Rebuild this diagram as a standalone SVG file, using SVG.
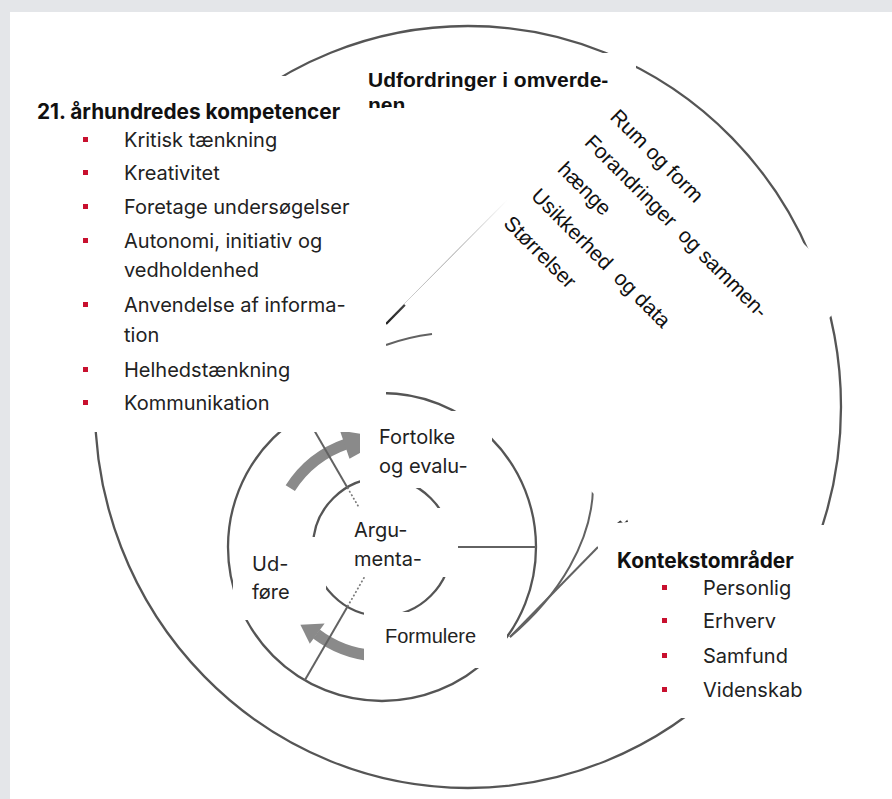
<svg xmlns="http://www.w3.org/2000/svg" width="892" height="799" viewBox="0 0 892 799">
<defs>
<style>
.bg{fill:#e4e6e9}
.mask{fill:#fff}
.ln{fill:none;stroke:#555;stroke-width:2.3}
.ln2{fill:none;stroke:#626262;stroke-width:2}
.dot{fill:none;stroke:#777;stroke-width:1.6;stroke-dasharray:2 2}
.arr{fill:none;stroke:#8a8a8a;stroke-width:11}
.arrh{fill:#8a8a8a}
.t{font-family:Inter,"Liberation Sans",sans-serif;font-size:20px;fill:#222}
.h{font-family:Inter,"Liberation Sans",sans-serif;font-size:20.8px;font-weight:700;fill:#111}
.a{font-family:"Liberation Sans",Arial,sans-serif;font-size:21px;fill:#111}
.ah{font-family:"Liberation Sans",Arial,sans-serif;font-size:21px;font-weight:700;fill:#111}
.af{font-family:"Liberation Sans",Arial,sans-serif;font-size:20px;fill:#222}
.b{fill:#c8102e}
</style>
<linearGradient id="fade" gradientUnits="userSpaceOnUse" x1="386" y1="324" x2="508" y2="200">
<stop offset="0" stop-color="#222"/>
<stop offset="0.55" stop-color="#555" stop-opacity="0.7"/>
<stop offset="1" stop-color="#999" stop-opacity="0"/>
</linearGradient>
<clipPath id="clipU"><rect x="360" y="53" width="276" height="55"/></clipPath>
</defs>

<rect x="0" y="0" width="892" height="799" class="bg"/>
<rect x="10" y="12" width="882" height="787" fill="#fff"/>

<g id="connectors">
<ellipse cx="468" cy="407" rx="373" ry="381" class="ln"/>
<circle cx="382" cy="547" r="154" class="ln"/>
<circle cx="382" cy="547" r="69" class="ln"/>
<path d="M290.3,488.1 A109,109 0 0 1 346.5,443.9" class="arr"/>
<polygon points="339.9,430.4 386.8,438.1 349.5,458.7" class="arrh"/>
<path d="M372.5,655.6 A109,109 0 0 1 316.4,634" class="arr"/>
<polygon points="309.8,643.8 300.4,624.8 324.6,623.5" class="arrh"/>
<line x1="306.5" y1="417" x2="347.3" y2="487.4" class="ln2"/>
<line x1="347.3" y1="487.4" x2="372" y2="530" class="dot"/>
<line x1="304.8" y1="680.2" x2="347.4" y2="606.7" class="ln2"/>
<line x1="347.4" y1="606.7" x2="372" y2="564" class="dot"/>
<line x1="451" y1="547" x2="536" y2="547" class="ln2"/>
<line x1="400" y1="547" x2="451" y2="547" class="dot"/>
<line x1="386" y1="324" x2="508" y2="200" stroke="url(#fade)" stroke-width="2.4"/>
<path d="M386,345 Q408,337 432,334" class="ln2"/>
<path d="M593,488 C592,540 560,595 510,637" class="ln2"/>
<line x1="598" y1="547" x2="510" y2="637" class="ln2"/>
<polygon points="617,523 626,516 628,522" fill="#333"/>
<line x1="236" y1="538" x2="246" y2="538" stroke="#9aa" stroke-width="1.5"/>
<line x1="276" y1="538" x2="279" y2="538" stroke="#99a" stroke-width="1.5"/>
</g>

<g id="masks">
<polygon points="634,74 853.5,293.5 623.5,523.5 404,304" class="mask"/>
<rect x="360" y="53" width="276" height="55" class="mask"/>
<rect x="20" y="76" width="366" height="356" class="mask"/>
<rect x="360" y="411" width="132" height="77" class="mask"/>
<rect x="352" y="508" width="106" height="69" class="mask"/>
<rect x="233" y="537" width="93" height="83" class="mask"/>
<rect x="364" y="612" width="143" height="56" class="mask"/>
<rect x="598" y="525" width="234" height="193" class="mask"/>
</g>

<g id="node-kompetencer">
<text x="37" y="119" class="h">21. århundredes kompetencer</text>
<rect x="83" y="137" width="5" height="5" class="b"/><text x="124" y="147" class="t">Kritisk tænkning</text>
<rect x="83" y="170" width="5" height="5" class="b"/><text x="124" y="180" class="t">Kreativitet</text>
<rect x="83" y="204" width="5" height="5" class="b"/><text x="124" y="214" class="t">Foretage undersøgelser</text>
<rect x="83" y="238" width="5" height="5" class="b"/><text x="124" y="248" class="t">Autonomi, initiativ og</text>
<text x="124" y="277" class="t">vedholdenhed</text>
<rect x="83" y="302" width="5" height="5" class="b"/><text x="124" y="312" class="t">Anvendelse af informa-</text>
<text x="124" y="342" class="t">tion</text>
<rect x="83" y="367" width="5" height="5" class="b"/><text x="124" y="377" class="t">Helhedstænkning</text>
<rect x="83" y="400" width="5" height="5" class="b"/><text x="124" y="410" class="t">Kommunikation</text>
</g>

<g id="node-udfordringer">
<text x="368" y="87" class="ah">Udfordringer i omverde-</text>
<text x="368" y="112" class="ah" clip-path="url(#clipU)">nen</text>
<text x="609" y="118" class="a" transform="rotate(45 609 118)">Rum og form</text>
<text x="583.5" y="143.5" class="a" xml:space="preserve" transform="rotate(45 583.5 143.5)">Forandringer  og sammen-</text>
<text x="556.5" y="170.5" class="a" transform="rotate(45 556.5 170.5)">hænge</text>
<text x="530" y="197" class="a" xml:space="preserve" transform="rotate(45 530 197)">Usikkerhed  og data</text>
<text x="502.5" y="224.5" class="a" transform="rotate(45 502.5 224.5)">Størrelser</text>
</g>

<g id="node-fortolke">
<text x="379" y="444" class="t">Fortolke</text>
<text x="379" y="473" class="t">og evalu-</text>
</g>
<g id="node-argumentere">
<text x="354" y="537" class="t">Argu-</text>
<text x="354" y="566" class="t">menta-</text>
</g>
<g id="node-udfore">
<text x="252" y="571" class="t">Ud-</text>
<text x="252" y="599" class="t">føre</text>
</g>
<g id="node-formulere">
<text x="385" y="643" class="af">Formulere</text>
</g>

<g id="node-kontekst">
<text x="617" y="568" class="h">Kontekstområder</text>
<rect x="662" y="585" width="5" height="5" class="b"/><text x="703" y="595" class="t">Personlig</text>
<rect x="662" y="618" width="5" height="5" class="b"/><text x="703" y="628" class="t">Erhverv</text>
<rect x="662" y="653" width="5" height="5" class="b"/><text x="703" y="663" class="t">Samfund</text>
<rect x="662" y="687" width="5" height="5" class="b"/><text x="703" y="697" class="t">Videnskab</text>
</g>
</svg>
